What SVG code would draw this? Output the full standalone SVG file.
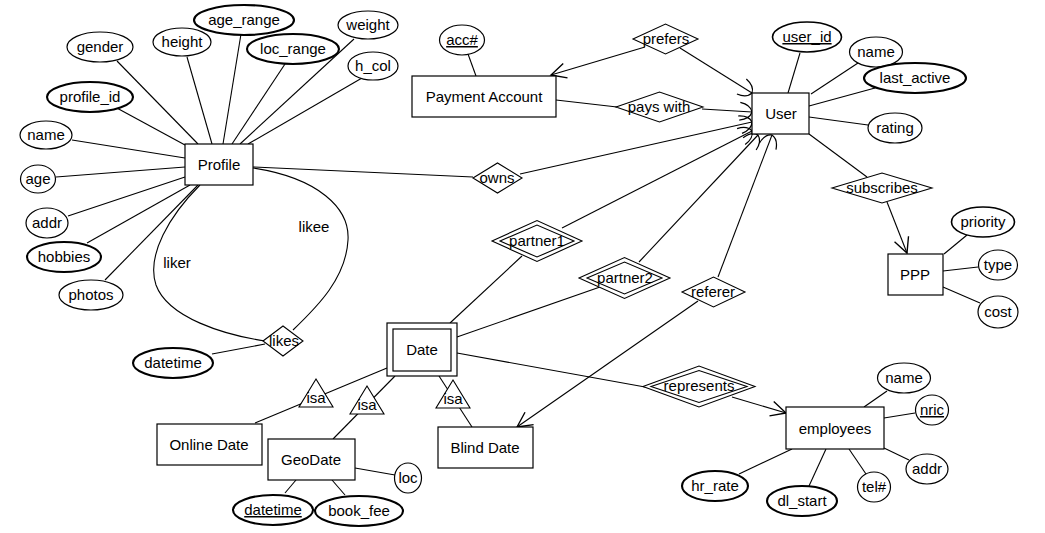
<svg xmlns="http://www.w3.org/2000/svg" width="1045" height="533" viewBox="0 0 1045 533">
<style>
text{font-family:"Liberation Sans",Arial,sans-serif;font-size:15px;fill:#000;text-anchor:middle}
.ent{fill:#fff;stroke:#000;stroke-width:1.2}
.att{fill:#fff;stroke:#000;stroke-width:1.2}
.mv{fill:#fff;stroke:#000;stroke-width:2.1}
.md{fill:#fff;stroke:#000;stroke-width:1.6}
.rel{fill:#fff;stroke:#000;stroke-width:1.1}
.c{fill:none;stroke:#000;stroke-width:1.1}
.u{text-decoration:underline}
</style>
<defs>
<marker id="open" markerUnits="userSpaceOnUse" orient="auto" markerWidth="20" markerHeight="20" refX="0" refY="0" viewBox="-14 -8 16 16" overflow="visible">
<path d="M-12,-6 L0,0 L-12,6" fill="none" stroke="#000" stroke-width="1.1"/>
</marker>
<marker id="curv" markerUnits="userSpaceOnUse" orient="auto" markerWidth="20" markerHeight="20" refX="0" refY="0" viewBox="-14 -9 16 18" overflow="visible">
<path d="M-11,-8 C-5,-7 -1,-4 0,0 C-1,4 -5,7 -11,8" fill="none" stroke="#000" stroke-width="1.1"/>
</marker>
</defs>
<rect width="1045" height="533" fill="#fff"/>
<g id="connectors">
<line class="c" x1="117" y1="61" x2="198" y2="144"/>
<line class="c" x1="187" y1="57" x2="212" y2="144"/>
<line class="c" x1="241" y1="34" x2="223" y2="144"/>
<line class="c" x1="285" y1="64" x2="232" y2="144"/>
<line class="c" x1="354" y1="39" x2="240" y2="144"/>
<line class="c" x1="362" y1="78" x2="248" y2="144"/>
<line class="c" x1="115" y1="107" x2="185" y2="145"/>
<line class="c" x1="72" y1="140" x2="185" y2="158"/>
<line class="c" x1="56" y1="177" x2="185" y2="167"/>
<line class="c" x1="68" y1="216" x2="185" y2="177"/>
<line class="c" x1="87" y1="243" x2="190" y2="185"/>
<line class="c" x1="105" y1="280" x2="198" y2="185"/>
<path class="c" d="M200,185 C170,215 146,255 156,285 C168,318 225,335 265,341"/>
<path class="c" d="M253,168 C318,178 350,208 348,240 C346,278 318,306 293,330"/>
<line class="c" x1="212" y1="354" x2="265" y2="344"/>
<line class="c" x1="253" y1="167" x2="473" y2="177"/>
<line class="c" x1="520" y1="174" x2="752" y2="122" marker-end="url(#curv)"/>
<line class="c" x1="468" y1="54" x2="476" y2="76"/>
<line class="c" x1="645" y1="47" x2="551" y2="75" marker-end="url(#open)"/>
<line class="c" x1="680" y1="48" x2="752" y2="93" marker-end="url(#curv)"/>
<line class="c" x1="556" y1="100" x2="617" y2="107"/>
<line class="c" x1="702" y1="109" x2="752" y2="112" marker-end="url(#curv)"/>
<line class="c" x1="800" y1="53" x2="788" y2="93"/>
<line class="c" x1="858" y1="63" x2="811" y2="94"/>
<line class="c" x1="875" y1="88" x2="809" y2="106"/>
<line class="c" x1="868" y1="125" x2="809" y2="117"/>
<line class="c" x1="809" y1="134" x2="867" y2="177"/>
<line class="c" x1="887" y1="202" x2="907" y2="253" marker-end="url(#open)"/>
<line class="c" x1="967" y1="235" x2="944" y2="254"/>
<line class="c" x1="978" y1="267" x2="943" y2="271"/>
<line class="c" x1="980" y1="303" x2="943" y2="287"/>
<line class="c" x1="450" y1="323" x2="522" y2="256"/>
<line class="c" x1="562" y1="228" x2="752" y2="131" marker-end="url(#curv)"/>
<line class="c" x1="457" y1="337" x2="600" y2="287"/>
<line class="c" x1="639" y1="262" x2="758" y2="135" marker-end="url(#curv)"/>
<line class="c" x1="718" y1="277" x2="772" y2="135" marker-end="url(#curv)"/>
<line class="c" x1="698" y1="301" x2="517" y2="427" marker-end="url(#open)"/>
<line class="c" x1="457" y1="353" x2="645" y2="387"/>
<line class="c" x1="732" y1="397" x2="786" y2="413" marker-end="url(#open)"/>
<line class="c" x1="887" y1="391" x2="864" y2="407"/>
<line class="c" x1="915" y1="413" x2="884" y2="418"/>
<line class="c" x1="909" y1="460" x2="884" y2="448"/>
<line class="c" x1="866" y1="474" x2="849" y2="449"/>
<line class="c" x1="809" y1="486" x2="826" y2="449"/>
<line class="c" x1="739" y1="474" x2="792" y2="449"/>
<line class="c" x1="387" y1="368" x2="255" y2="423"/>
<line class="c" x1="395" y1="376" x2="333" y2="439"/>
<line class="c" x1="439" y1="376" x2="472" y2="427"/>
<line class="c" x1="395" y1="475" x2="355" y2="468"/>
<line class="c" x1="285" y1="493" x2="296" y2="480"/>
<line class="c" x1="345" y1="495" x2="332" y2="480"/>
</g>
<g id="profile"><rect class="ent" x="185" y="144" width="68" height="41"/><text x="219" y="170">Profile</text></g>
<g id="gender"><ellipse class="att" cx="100" cy="47" rx="33" ry="15"/><text x="100" y="52">gender</text></g>
<g id="height"><ellipse class="att" cx="182" cy="42" rx="29" ry="14"/><text x="182" y="47">height</text></g>
<g id="age_range"><ellipse class="mv" cx="244" cy="20" rx="50" ry="15"/><text x="244" y="25">age_range</text></g>
<g id="weight"><ellipse class="att" cx="368" cy="25" rx="30" ry="14"/><text x="368" y="30">weight</text></g>
<g id="loc_range"><ellipse class="mv" cx="293" cy="49" rx="46" ry="15"/><text x="293" y="54">loc_range</text></g>
<g id="h_col"><ellipse class="att" cx="373" cy="66" rx="25" ry="14"/><text x="373" y="71">h_col</text></g>
<g id="profile_id"><ellipse class="mv" cx="90" cy="97" rx="43" ry="15"/><text x="90" y="102">profile_id</text></g>
<g id="p_name"><ellipse class="att" cx="46" cy="135" rx="26" ry="14"/><text x="46" y="140">name</text></g>
<g id="age"><ellipse class="att" cx="38" cy="179" rx="17.5" ry="14"/><text x="38" y="184">age</text></g>
<g id="p_addr"><ellipse class="att" cx="47" cy="223" rx="21" ry="15"/><text x="47" y="228">addr</text></g>
<g id="hobbies"><ellipse class="mv" cx="64" cy="257" rx="37" ry="15"/><text x="64" y="262">hobbies</text></g>
<g id="photos"><ellipse class="att" cx="91" cy="295" rx="32" ry="15"/><text x="91" y="300">photos</text></g>
<g id="likes"><polygon class="rel" points="263,341 283,326 303,341 283,356"/><text x="284" y="346">likes</text></g>
<g id="likes_datetime"><ellipse class="mv" cx="173" cy="363" rx="40" ry="15"/><text x="173" y="368">datetime</text></g>
<g id="role_likee"><text x="314" y="232">likee</text></g>
<g id="role_liker"><text x="177" y="268">liker</text></g>
<g id="owns"><polygon class="rel" points="473,178 497.5,163 522,178 497.5,193"/><text x="497" y="183">owns</text></g>
<g id="payment_account"><rect class="ent" x="412" y="76" width="144" height="41"/><text x="484" y="102">Payment Account</text></g>
<g id="acc"><ellipse class="att" cx="462" cy="40" rx="22.5" ry="15"/><text class="u" x="462" y="45">acc#</text></g>
<g id="prefers"><polygon class="rel" points="633,39 665.5,24 698,39 665.5,54"/><text x="666" y="44">prefers</text></g>
<g id="pays_with"><polygon class="rel" points="616,107 659.5,92 703,107 659.5,122"/><text x="659" y="112">pays with</text></g>
<g id="user"><rect class="ent" x="752" y="93" width="57" height="41"/><text x="781" y="119">User</text></g>
<g id="user_id"><ellipse class="md" cx="807" cy="37" rx="34.5" ry="15"/><text class="u" x="807" y="42">user_id</text></g>
<g id="u_name"><ellipse class="att" cx="876" cy="52" rx="26.5" ry="15"/><text x="876" y="57">name</text></g>
<g id="last_active"><ellipse class="mv" cx="915" cy="78" rx="51" ry="15"/><text x="915" y="83">last_active</text></g>
<g id="rating"><ellipse class="att" cx="895" cy="128" rx="27" ry="15"/><text x="895" y="133">rating</text></g>
<g id="subscribes"><polygon class="rel" points="832,188 882,173 932,188 882,203"/><text x="882" y="193">subscribes</text></g>
<g id="ppp"><rect class="ent" x="888" y="254" width="55" height="41"/><text x="915" y="280">PPP</text></g>
<g id="priority"><ellipse class="md" cx="983" cy="222" rx="31.5" ry="15"/><text x="983" y="227">priority</text></g>
<g id="type"><ellipse class="att" cx="998" cy="265" rx="19.5" ry="15"/><text x="998" y="270">type</text></g>
<g id="cost"><ellipse class="att" cx="998" cy="312" rx="20" ry="16"/><text x="998" y="317">cost</text></g>
<g id="partner1"><polygon class="rel" points="492,241 537,220.5 582,241 537,261.5"/><polygon class="rel" points="500,241 537,225 574,241 537,257"/><text x="537" y="246">partner1</text></g>
<g id="partner2"><polygon class="rel" points="579,278 624.5,257.5 670,278 624.5,298.5"/><polygon class="rel" points="587,278 624.5,262 662,278 624.5,294"/><text x="625" y="283">partner2</text></g>
<g id="referer"><polygon class="rel" points="682,292 713.5,277 745,292 713.5,307"/><text x="713" y="297">referer</text></g>
<g id="date"><rect class="ent" x="387" y="323" width="70" height="53"/><rect class="ent" x="393" y="329" width="58" height="42"/><text x="422" y="355">Date</text></g>
<g id="represents"><polygon class="rel" points="643,386.5 699,366 755,386.5 699,407"/><polygon class="rel" points="651,386.5 699,370.5 747,386.5 699,402.5"/><text x="699" y="391">represents</text></g>
<g id="employees"><rect class="ent" x="786" y="407" width="98" height="42"/><text x="835" y="434">employees</text></g>
<g id="e_name"><ellipse class="att" cx="904" cy="378" rx="26.5" ry="15"/><text x="904" y="383">name</text></g>
<g id="nric"><ellipse class="att" cx="932" cy="410" rx="16.5" ry="15"/><text class="u" x="932" y="415">nric</text></g>
<g id="e_addr"><ellipse class="att" cx="927" cy="469" rx="21" ry="15"/><text x="927" y="474">addr</text></g>
<g id="tel"><ellipse class="att" cx="874" cy="487" rx="16.5" ry="15"/><text x="874" y="492">tel#</text></g>
<g id="dl_start"><ellipse class="mv" cx="802" cy="501" rx="35" ry="15"/><text x="802" y="506">dl_start</text></g>
<g id="hr_rate"><ellipse class="mv" cx="715" cy="486" rx="33" ry="15"/><text x="715" y="491">hr_rate</text></g>
<g id="isa_online"><polygon class="rel" points="316,379 333,407 299,407"/><text x="316" y="403">isa</text></g>
<g id="isa_geo"><polygon class="rel" points="367,386 384,414 350,414"/><text x="367" y="410">isa</text></g>
<g id="isa_blind"><polygon class="rel" points="453,380 470,408 436,408"/><text x="453" y="404">isa</text></g>
<g id="online_date"><rect class="ent" x="157" y="424" width="105" height="41"/><text x="209" y="450">Online Date</text></g>
<g id="geodate"><rect class="ent" x="268" y="439" width="87" height="41"/><text x="311" y="465">GeoDate</text></g>
<g id="blind_date"><rect class="ent" x="438" y="427" width="95" height="41"/><text x="485" y="453">Blind Date</text></g>
<g id="loc"><ellipse class="att" cx="408" cy="478" rx="13.5" ry="15"/><text x="408" y="483">loc</text></g>
<g id="g_datetime"><ellipse class="mv" cx="273" cy="510" rx="40" ry="15"/><text class="u" x="273" y="515">datetime</text></g>
<g id="book_fee"><ellipse class="mv" cx="359" cy="511" rx="44" ry="15"/><text x="359" y="516">book_fee</text></g>
</svg>
